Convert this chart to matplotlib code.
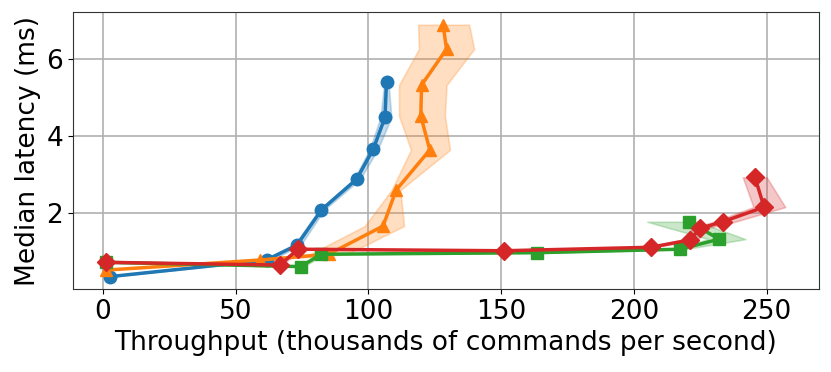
import matplotlib
matplotlib.use("Agg")
import matplotlib.pyplot as plt

# throughput (k cmds/s), median latency (ms), band low/high throughput
blue_x = [2.5, 61.6, 73.1, 82.3, 95.5, 101.8, 106.2, 106.8]
blue_y = [0.36, 0.79, 1.18, 2.09, 2.88, 3.66, 4.48, 5.41]
blue_lo = [2.0, 60.0, 72.0, 81.5, 94.5, 100.5, 104.5, 106.0]
blue_hi = [3.0, 63.5, 74.5, 83.3, 96.8, 103.5, 108.6, 107.5]

orange_x = [1.3, 59.0, 85.0, 105.5, 110.4, 123.1, 119.7, 120.0, 129.4, 128.1]
orange_y = [0.53, 0.79, 0.94, 1.67, 2.60, 3.64, 4.52, 5.32, 6.25, 6.88]
orange_lo = [0.8, 57.5, 78.0, 98.6, 108.7, 116.0, 111.5, 111.5, 119.0, 118.7]
orange_hi = [1.8, 60.5, 92.0, 113.4, 112.0, 130.7, 128.8, 129.4, 139.8, 137.9]

green_x = [1.3, 74.4, 82.3, 163.3, 217.3, 232.1, 220.8]
green_y = [0.73, 0.62, 0.94, 0.98, 1.07, 1.33, 1.78]
green_lo = [1.0, 73.5, 81.0, 162.0, 215.0, 228.0, 205.0]
green_hi = [1.8, 75.5, 83.5, 165.0, 219.0, 242.0, 224.0]

red_x = [1.3, 66.6, 73.5, 151.0, 206.3, 221.1, 224.9, 233.4, 249.0, 245.6]
red_y = [0.73, 0.66, 1.07, 1.03, 1.12, 1.31, 1.61, 1.78, 2.16, 2.93]
red_lo = [1.0, 65.5, 72.5, 149.5, 205.0, 218.0, 222.0, 230.0, 245.0, 241.0]
red_hi = [1.8, 67.5, 74.5, 152.5, 207.5, 224.0, 227.0, 238.0, 257.0, 250.0]

series = [
    (blue_x, blue_y, blue_lo, blue_hi, "tab:blue", "o"),
    (orange_x, orange_y, orange_lo, orange_hi, "tab:orange", "^"),
    (green_x, green_y, green_lo, green_hi, "tab:green", "s"),
    (red_x, red_y, red_lo, red_hi, "tab:red", "D"),
]

plt.rcParams["font.size"] = 19

fig = plt.figure(figsize=(8.31, 3.72), dpi=100)
ax = fig.add_axes([73 / 831, 1 - 289 / 372, (819 - 73) / 831, (289 - 12) / 372])

for x, y, lo, hi, color, marker in series:
    ax.fill_betweenx(y, lo, hi, color=color, alpha=0.25, linewidth=1.2)
    ax.plot(x, y, color=color, marker=marker, linewidth=2.5, markersize=9)

ax.set_xlim(-11.3, 269.7)
ax.set_ylim(0.04, 7.21)
ax.set_yticks([2, 4, 6])
ax.grid(True, color="#b0b0b0", linewidth=1.2)
ax.set_axisbelow(True)
for s in ax.spines.values():
    s.set_color("0.2")
ax.set_xlabel("Throughput (thousands of commands per second)")
ax.set_ylabel("Median latency (ms)")

fig.savefig("out.png", dpi=100)
